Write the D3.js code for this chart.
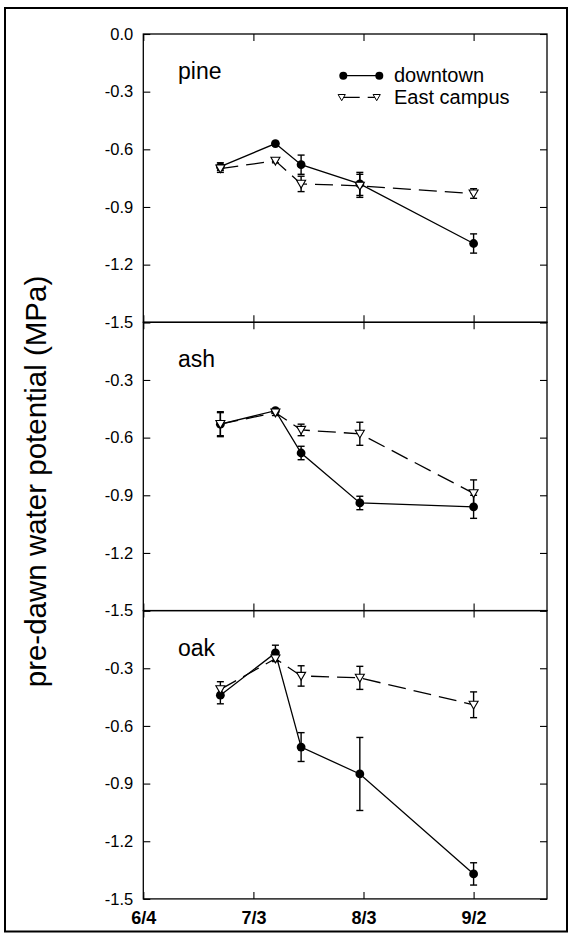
<!DOCTYPE html>
<html lang="en">
<head>
<meta charset="utf-8">
<title>pre-dawn water potential</title>
<script src="https://cdn.jsdelivr.net/npm/d3@7/dist/d3.min.js"></script>
<style>
  body { margin: 0; background: #fff; }
  svg { display: block; }
</style>
</head>
<body>
<div id="chart"></div>
<script>
  // values (MPa), sampling days as day of year
  const panelNames = ['pine', 'ash', 'oak'];
  const sampleDays = [176, 191, 198, 214, 245];

  const pineDowntown = [-0.69, -0.57, -0.68, -0.78, -1.09];
  const pineDowntownErr = [0.02, 0.01, 0.05, 0.06, 0.05];
  const pineEast = [-0.70, -0.66, -0.78, -0.79, -0.83];
  const pineEastErr = [0.02, 0.01, 0.04, 0.06, 0.025];

  const ashDowntown = [-0.53, -0.46, -0.68, -0.94, -0.96];
  const ashDowntownErr = [0.06, 0.01, 0.035, 0.035, 0.06];
  const ashEast = [-0.53, -0.47, -0.56, -0.58, -0.89];
  const ashEastErr = [0.065, 0.015, 0.03, 0.06, 0.07];

  const oakDowntown = [-0.44, -0.22, -0.71, -0.85, -1.37];
  const oakDowntownErr = [0.045, 0.04, 0.075, 0.19, 0.058];
  const oakEast = [-0.41, -0.25, -0.34, -0.35, -0.49];
  const oakEastErr = [0.04, 0.015, 0.053, 0.06, 0.067];

  const seriesNames = ['downtown', 'East campus'];
  const xTickValues = [155, 185, 215, 245];
  const xTickLabels = ['6/4', '7/3', '8/3', '9/2'];
  const yTickValues = [0, -0.3, -0.6, -0.9, -1.2, -1.5];
  const yLabel = 'pre-dawn water potential (MPa)';

  const width = 571, height = 934;
  const plotLeft = 143.3, plotRight = 547, plotTop = 34, panelHeight = 288.3;
  const font = '"Liberation Sans", Arial, Helvetica, sans-serif';
  const dash = '18,8';

  const panels = [
    { name: panelNames[0], downtown: [pineDowntown, pineDowntownErr], east: [pineEast, pineEastErr] },
    { name: panelNames[1], downtown: [ashDowntown, ashDowntownErr], east: [ashEast, ashEastErr] },
    { name: panelNames[2], downtown: [oakDowntown, oakDowntownErr], east: [oakEast, oakEastErr] }
  ];

  const fmt = d3.formatLocale({ decimal: '.', thousands: ',', grouping: [3], currency: ['', ''], minus: '-' }).format('.1f');
  const x = d3.scaleLinear().domain([155, 265]).range([plotLeft, plotRight]);
  const triangle = 'M-4.5,-3.6L4.5,-3.6L0,4.2Z';
  const smallTriangle = 'M-3.6,-2.8L3.6,-2.8L0,3.4Z';

  const svg = d3.select('#chart').append('svg').attr('width', width).attr('height', height);
  svg.append('rect').attr('width', width).attr('height', height).attr('fill', '#fff');

  // outer frame of the scanned figure
  svg.append('rect')
    .attr('x', 5).attr('y', 8).attr('width', 562).attr('height', 923.5)
    .attr('fill', 'none').attr('stroke', '#000').attr('stroke-width', 2);

  function toPoints(pair) {
    return sampleDays.map((d, i) => ({ day: d, value: pair[0][i], err: pair[1][i] }));
  }

  function styleAxis(g, size, weight) {
    g.select('.domain').remove();
    g.selectAll('line').attr('stroke', '#000').attr('stroke-width', 1.1);
    g.selectAll('text').attr('font-size', size).attr('font-family', font)
      .attr('font-weight', weight).attr('fill', '#000');
  }

  function drawErrors(g, y, pts) {
    const bars = g.append('g').attr('stroke', '#000').attr('stroke-width', 1.4);
    pts.forEach(p => {
      const cx = x(p.day), y1 = y(p.value + p.err), y2 = y(p.value - p.err);
      bars.append('line').attr('x1', cx).attr('x2', cx).attr('y1', y1).attr('y2', y2);
      bars.append('line').attr('x1', cx - 3.5).attr('x2', cx + 3.5).attr('y1', y1).attr('y2', y1);
      bars.append('line').attr('x1', cx - 3.5).attr('x2', cx + 3.5).attr('y1', y2).attr('y2', y2);
    });
  }

  function renderPanel(panel, i) {
    const top = plotTop + i * panelHeight;
    const y = d3.scaleLinear().domain([-1.5, 0]).range([top + panelHeight, top]);
    const g = svg.append('g');

    g.append('g').attr('transform', `translate(${plotLeft},0)`)
      .call(d3.axisLeft(y).tickValues(yTickValues).tickSizeInner(-7).tickSizeOuter(0).tickPadding(10)
        .tickFormat(d => (i > 0 && d === 0) ? '' : fmt(d)))
      .call(a => styleAxis(a, 16.5, 'normal'));
    g.append('g').attr('transform', `translate(${plotRight},0)`)
      .call(d3.axisRight(y).tickValues(yTickValues).tickSizeInner(-7).tickSizeOuter(0).tickFormat(''))
      .call(a => styleAxis(a, 16, 'normal'));
    g.append('g').attr('transform', `translate(0,${top})`)
      .call(d3.axisTop(x).tickValues(xTickValues).tickSizeInner(-7).tickSizeOuter(0).tickFormat(''))
      .call(a => styleAxis(a, 16, 'normal'));
    g.append('g').attr('transform', `translate(0,${top + panelHeight})`)
      .call(d3.axisBottom(x).tickValues(xTickValues).tickSizeInner(-7).tickSizeOuter(0).tickPadding(12)
        .tickFormat((d, k) => i === panels.length - 1 ? xTickLabels[k] : ''))
      .call(a => styleAxis(a, 18, 'bold'));

    g.append('rect')
      .attr('x', plotLeft).attr('y', top).attr('width', plotRight - plotLeft).attr('height', panelHeight)
      .attr('fill', 'none').attr('stroke', '#000').attr('stroke-width', 1.3);

    g.append('text').text(panel.name)
      .attr('x', 178).attr('y', top + 45)
      .attr('font-family', font).attr('font-size', 23).attr('fill', '#000');

    const line = d3.line().x(d => x(d.day)).y(d => y(d.value));
    const downtown = toPoints(panel.downtown);
    const east = toPoints(panel.east);

    drawErrors(g, y, downtown);
    drawErrors(g, y, east);

    g.append('path').datum(downtown).attr('d', line)
      .attr('fill', 'none').attr('stroke', '#000').attr('stroke-width', 1.3);
    g.append('path').datum(east).attr('d', line)
      .attr('fill', 'none').attr('stroke', '#000').attr('stroke-width', 1.3).attr('stroke-dasharray', dash);

    g.selectAll('circle.downtown').data(downtown).enter().append('circle')
      .classed('downtown', true)
      .attr('cx', d => x(d.day)).attr('cy', d => y(d.value)).attr('r', 4.4).attr('fill', '#000');
    g.selectAll('path.east').data(east).enter().append('path')
      .classed('east', true)
      .attr('d', triangle)
      .attr('transform', d => `translate(${x(d.day)},${y(d.value)})`)
      .attr('fill', '#fff').attr('stroke', '#000').attr('stroke-width', 1.1);
  }

  function renderLegend() {
    const lg = svg.append('g');
    lg.append('line').attr('x1', 343.3).attr('x2', 379.3).attr('y1', 75.7).attr('y2', 75.7)
      .attr('stroke', '#000').attr('stroke-width', 1.3);
    [343.3, 379.3].forEach(cx => lg.append('circle').attr('cx', cx).attr('cy', 75.7).attr('r', 4).attr('fill', '#000'));
    lg.append('text').text(seriesNames[0]).attr('x', 394).attr('y', 82)
      .attr('font-family', font).attr('font-size', 20).attr('fill', '#000');

    lg.append('line').attr('x1', 341.7).attr('x2', 376.7).attr('y1', 97.3).attr('y2', 97.3)
      .attr('stroke', '#000').attr('stroke-width', 1.3).attr('stroke-dasharray', dash);
    [341.7, 376.7].forEach(cx => lg.append('path').attr('d', smallTriangle)
      .attr('transform', `translate(${cx},97.3)`)
      .attr('fill', '#fff').attr('stroke', '#000').attr('stroke-width', 1));
    lg.append('text').text(seriesNames[1]).attr('x', 394).attr('y', 104)
      .attr('font-family', font).attr('font-size', 20).attr('fill', '#000');
  }

  function renderYLabel() {
    svg.append('text').text(yLabel)
      .attr('transform', 'translate(46,481.5) rotate(-90)')
      .attr('text-anchor', 'middle')
      .attr('font-family', font).attr('font-size', 29.5).attr('fill', '#000');
  }

  panels.forEach(renderPanel);
  renderLegend();
  renderYLabel();
</script>
</body>
</html>
